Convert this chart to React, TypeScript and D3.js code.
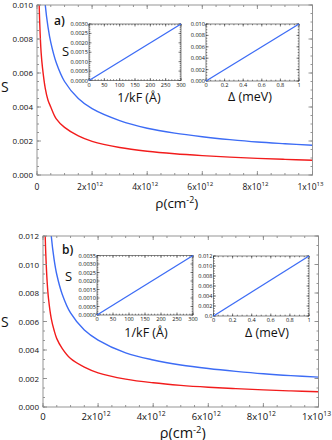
import React from "react";
import * as d3 from "d3";

// density in units of 1e12 cm^-2
const rho = [0.05, 0.07, 0.1, 0.15, 0.2, 0.3, 0.4, 0.5, 0.7, 1, 1.5, 2, 3, 4, 5, 6, 7, 8, 9, 10];
// panel a)
const blueA = [0.0246, 0.0208, 0.0174, 0.0142, 0.0123, 0.01, 0.0087, 0.0078, 0.0066, 0.0055, 0.0045, 0.0039, 0.0032, 0.00275, 0.00246, 0.00225, 0.00208, 0.00194, 0.00184, 0.00175];
const redA = [0.0125, 0.0106, 0.0089, 0.0072, 0.0063, 0.0051, 0.0044, 0.0040, 0.0033, 0.0028, 0.0023, 0.00198, 0.00162, 0.0014, 0.00125, 0.00114, 0.00105, 0.00098, 0.00092, 0.00087];
// panel b)
const blueB = [0.0295, 0.0249, 0.0209, 0.017, 0.0148, 0.012, 0.0104, 0.0093, 0.0079, 0.0066, 0.0054, 0.0047, 0.0038, 0.0033, 0.00295, 0.0027, 0.0025, 0.00233, 0.0022, 0.0021];
const redB = [0.0152, 0.0128, 0.0108, 0.0088, 0.0076, 0.0062, 0.0054, 0.0048, 0.0041, 0.0034, 0.0028, 0.0024, 0.00196, 0.0017, 0.00152, 0.00139, 0.00129, 0.0012, 0.00113, 0.00107];

const xTickVals = [0, 2, 4, 6, 8, 10];
const xTickMant = ["0", "2", "4", "6", "8", "1"];
const xTickExp = ["", "12", "12", "12", "12", "13"];
const yLabelsA = ["0.000", "0.002", "0.004", "0.006", "0.008", "0.010"];
const yLabelsB = ["0.000", "0.002", "0.004", "0.006", "0.008", "0.010", "0.012"];

// insets: S vs 1/kF and S vs Delta (straight lines)
const kfEnds = [0, 300];
const kfLabels = ["0", "50", "100", "150", "200", "250", "300"];
const sKfA = [0, 0.003];
const sKfB = [0, 0.0035];
const kfYLabelsA = ["0.0000", "0.0005", "0.0010", "0.0015", "0.0020", "0.0025", "0.0030"];
const kfYLabelsB = ["0.0000", "0.0005", "0.0010", "0.0015", "0.0020", "0.0025", "0.0030", "0.0035"];
const deltaEnds = [0, 1];
const deltaLabels = ["0", "0.2", "0.4", "0.6", "0.8", "1"];
const sDeltaA = [0, 0.01];
const sDeltaB = [0, 0.012];
const deltaYLabelsA = ["0.000", "0.002", "0.004", "0.006", "0.008", "0.010"];
const deltaYLabelsB = ["0.0", "0.002", "0.004", "0.006", "0.008", "0.010", "0.012"];

const BLUE = "#3d6cf5";
const RED = "#f21c1c";
const FONT = "'Open Sans', 'DejaVu Sans', sans-serif";

type Lin = d3.ScaleLinear<number, number>;

function Frame({ x, y, xMajor, yMajor, xMinor, yMinor, major, minor, color, sw }: {
  x: Lin; y: Lin; xMajor: number[]; yMajor: number[]; xMinor: number[]; yMinor: number[];
  major: number; minor: number; color: string; sw: number;
}) {
  const [x0, x1] = x.range();
  const [yb, yt] = y.range();
  const segs: number[][] = [];
  const addX = (v: number, len: number) => {
    const px = x(v);
    segs.push([px, yb, px, yb - len]);
    segs.push([px, yt, px, yt + len]);
  };
  const addY = (v: number, len: number) => {
    const py = y(v);
    segs.push([x0, py, x0 + len, py]);
    segs.push([x1, py, x1 - len, py]);
  };
  xMinor.forEach((v) => addX(v, minor));
  yMinor.forEach((v) => addY(v, minor));
  xMajor.forEach((v) => addX(v, major));
  yMajor.forEach((v) => addY(v, major));
  return (
    <g stroke={color} strokeWidth={sw} fill="none">
      <rect x={x0} y={yt} width={x1 - x0} height={yb - yt} />
      {segs.map((s, i) => (
        <line key={i} x1={s[0]} y1={s[1]} x2={s[2]} y2={s[3]} />
      ))}
    </g>
  );
}

function Inset({ left, right, top, bottom, xEnds, yEnds, xLabels, yLabels, yStep, xMinorStep, yMinorStep, yTitleX, yTitleY, xTitle, xTitleX, xTitleY }: {
  left: number; right: number; top: number; bottom: number; xEnds: number[]; yEnds: number[];
  xLabels: string[]; yLabels: string[]; yStep: number; xMinorStep: number; yMinorStep: number;
  yTitleX?: number; yTitleY?: number; xTitle: string; xTitleX: number; xTitleY: number;
}) {
  const xMax = +xLabels[xLabels.length - 1];
  const yMax = yStep * (yLabels.length - 1);
  const x = d3.scaleLinear().domain([0, xMax]).range([left, right]);
  const y = d3.scaleLinear().domain([0, yMax]).range([bottom, top]);
  const xMajor = xLabels.map((d) => +d);
  const yMajor = yLabels.map((_, i) => i * yStep);
  const line = d3.line<number>().x((d) => x(d)).y((d, i) => y(yEnds[i]));
  return (
    <g>
      <rect x={left} y={top} width={right - left} height={bottom - top} fill="#fff" />
      <Frame x={x} y={y} xMajor={xMajor} yMajor={yMajor}
        xMinor={d3.range(0, xMax + 1e-9, xMinorStep)} yMinor={d3.range(0, yMax + 1e-9, yMinorStep)}
        major={2.5} minor={1.3} color="#333" sw={0.6} />
      <path d={line(xEnds) || ""} stroke={BLUE} strokeWidth={1.3} fill="none" />
      <g fontFamily={FONT} fontSize={5.6} fill="#111">
        {yLabels.map((l, i) => (
          <text key={l + i} x={left - 1} y={y(yMajor[i]) + 2} textAnchor="end">{l}</text>
        ))}
        {xLabels.map((l, i) => (
          <text key={l} x={x(xMajor[i])} y={bottom + 6} textAnchor="middle">{l}</text>
        ))}
      </g>
      {yTitleX !== undefined && (
        <text x={yTitleX} y={yTitleY} fontFamily={FONT} fontSize={13} fill="#111">S</text>
      )}
      <text x={xTitleX} y={xTitleY} fontFamily={FONT} fontSize={12.5} fill="#111" textAnchor="middle">{xTitle}</text>
    </g>
  );
}

function Panel({ left, right, top, bottom, yMax, blue, red, yLabels, yMinorStep, xFont, rhoFont, rhoY, xLabY, sY, tag, tagX, tagY, id, children }: {
  left: number; right: number; top: number; bottom: number; yMax: number; blue: number[]; red: number[];
  yLabels: string[]; yMinorStep: number; xFont: number; rhoFont: number; rhoY: number; xLabY: number;
  sY: number; tag: string; tagX: number; tagY: number; id: string; children?: React.ReactNode;
}) {
  const x = d3.scaleLinear().domain([0, 10]).range([left, right]);
  const y = d3.scaleLinear().domain([0, yMax]).range([bottom, top]);
  const yMajor = yLabels.map((d) => +d);
  const line = (vals: number[]) =>
    d3.line<number>().x((d) => x(d)).y((d, i) => y(vals[i])).curve(d3.curveCatmullRom.alpha(0.5))(rho) || "";
  return (
    <g>
      <clipPath id={id}>
        <rect x={left} y={top} width={right - left} height={bottom - top} />
      </clipPath>
      <g clipPath={`url(#${id})`} fill="none" strokeWidth={1.4}>
        <path d={line(blue)} stroke={BLUE} />
        <path d={line(red)} stroke={RED} />
      </g>
      <Frame x={x} y={y} xMajor={xTickVals} yMajor={yMajor}
        xMinor={d3.range(0, 10.001, 0.5)} yMinor={d3.range(0, yMax + 1e-9, yMinorStep)}
        major={4} minor={2} color="#8a8a8a" sw={0.9} />
      <g fontFamily={FONT} fill="#111">
        {yLabels.map((l) => (
          <text key={l} x={left - 4} y={y(+l) + 3} fontSize={8} textAnchor="end">{l}</text>
        ))}
        {xTickVals.map((v, i) => (
          <text key={v} x={x(v) - (i === 0 ? 0 : 2)} y={xLabY} fontSize={xFont} textAnchor="middle">
            {xTickMant[i]}
            {xTickExp[i] && (<tspan>x10</tspan>)}
            {xTickExp[i] && (<tspan dy={-3.5} fontSize={xFont * 0.72}>{xTickExp[i]}</tspan>)}
          </text>
        ))}
        <text x={(left + right) / 2 + 2} y={rhoY} fontSize={rhoFont} textAnchor="middle">
          ρ(cm<tspan dy={-5} fontSize={rhoFont * 0.65}>-2</tspan><tspan dy={5}>)</tspan>
        </text>
        <text x={1} y={sY} fontSize={14}>S</text>
        <text x={tagX} y={tagY} fontSize={12} fontWeight={600}>{tag}</text>
      </g>
      {children}
    </g>
  );
}

export default function App() {
  return (
    <svg width={332} height={440} style={{ position: "absolute", left: 0, top: 0, background: "#fff" }}>
      <Panel left={37} right={312.5} top={5} bottom={175} yMax={0.01} blue={blueA} red={redA}
        yLabels={yLabelsA} yMinorStep={0.0005} xFont={8.5} rhoFont={13.5} rhoY={207.5} xLabY={189.5}
        sY={92} tag="a)" tagX={54} tagY={25} id="clipA">
        <Inset left={89} right={181} top={24} bottom={80.5} xEnds={kfEnds} yEnds={sKfA}
          xLabels={kfLabels} yLabels={kfYLabelsA} yStep={0.0005} xMinorStep={10} yMinorStep={0.0001}
          yTitleX={62} yTitleY={56} xTitle="1/kF (Å)" xTitleX={139} xTitleY={101.5} />
        <Inset left={206} right={299} top={24} bottom={81} xEnds={deltaEnds} yEnds={sDeltaA}
          xLabels={deltaLabels} yLabels={deltaYLabelsA} yStep={0.002} xMinorStep={0.05} yMinorStep={0.0005}
          xTitle="Δ (meV)" xTitleX={250} xTitleY={101} />
      </Panel>
      <Panel left={43} right={318.5} top={236} bottom={407} yMax={0.012} blue={blueB} red={redB}
        yLabels={yLabelsB} yMinorStep={0.002 / 3} xFont={9.5} rhoFont={14.5} rhoY={437.5} xLabY={419.5}
        sY={327} tag="b)" tagX={62} tagY={254} id="clipB">
        <Inset left={97} right={193} top={255.5} bottom={315} xEnds={kfEnds} yEnds={sKfB}
          xLabels={kfLabels} yLabels={kfYLabelsB} yStep={0.0005} xMinorStep={10} yMinorStep={0.0001}
          yTitleX={65} yTitleY={281} xTitle="1/kF (Å)" xTitleX={146} xTitleY={336.5} />
        <Inset left={213.5} right={309} top={256} bottom={316} xEnds={deltaEnds} yEnds={sDeltaB}
          xLabels={deltaLabels} yLabels={deltaYLabelsB} yStep={0.002} xMinorStep={0.05} yMinorStep={0.0005}
          xTitle="Δ (meV)" xTitleX={267} xTitleY={336.5} />
      </Panel>
    </svg>
  );
}
